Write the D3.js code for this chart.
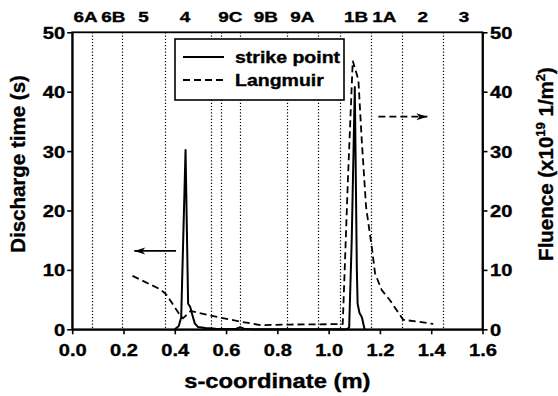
<!DOCTYPE html>
<html>
<head>
<meta charset="utf-8">
<script src="https://cdn.jsdelivr.net/npm/d3@7"></script>
<style>
  body { margin: 0; background: #fff; }
  text { font-family: "Liberation Sans", Arial, sans-serif; font-weight: bold; fill: #000; stroke: #000; stroke-width: 0.35px; }
</style>
</head>
<body>
<div id="chart"></div>
<script>
// strike point discharge time (left axis, s)
const strikeX = [0.40, 0.415, 0.425, 0.442, 0.452, 0.46, 0.468, 0.478, 0.49, 0.52, 0.56, 0.60, 0.64, 0.655, 0.67, 0.70, 1.07, 1.08, 1.09, 1.102, 1.11, 1.113, 1.12, 1.13, 1.14];
const strikeY = [0, 0.5, 2, 30.2, 4.3, 3.8, 2.5, 1.0, 0.4, 0.2, 0.1, 0.05, 0.1, 0.35, 0.1, 0, 0, 0.3, 15, 40.8, 10, 4.3, 2.8, 2.0, 0];

// Langmuir fluence (right axis, x10^19 1/m^2)
const langX = [0.235, 0.345, 0.368, 0.42, 0.432, 0.462, 0.54, 0.655, 0.735, 0.85, 1.0, 1.055, 1.075, 1.094, 1.116, 1.129, 1.146, 1.168, 1.181, 1.207, 1.239, 1.291, 1.344, 1.408];
const langY = [9.0, 6.7, 5.8, 2.4, 1.85, 3.1, 2.3, 1.3, 0.7, 0.8, 0.85, 0.9, 25, 45.2, 42.0, 31.9, 20.6, 13.9, 9.4, 6.6, 4.9, 1.6, 1.3, 0.9];

// tile boundaries and tile names
const boundaries = [0.077, 0.196, 0.363, 0.543, 0.582, 0.655, 0.836, 0.960, 1.045, 1.167, 1.286, 1.446];
const tileNames = ["6A", "6B", "5", "4", "9C", "9B", "9A", "1B", "1A", "2", "3"];
const tileX = [0.052, 0.160, 0.278, 0.440, 0.617, 0.755, 0.897, 1.107, 1.217, 1.367, 1.528];

const xTicks = [0.0, 0.2, 0.4, 0.6, 0.8, 1.0, 1.2, 1.4, 1.6];
const yTicks = [0, 10, 20, 30, 40, 50];

const width = 558, height = 396;
const margin = {left: 72.2, right: 558 - 482.5, top: 32.3, bottom: 396 - 329.3};
const SX = 1.22; // horizontal stretch of the lettering

const x = d3.scaleLinear().domain([0, 1.6]).range([margin.left, width - margin.right]);
const yL = d3.scaleLinear().domain([0, 50]).range([height - margin.bottom, margin.top]);
const yR = d3.scaleLinear().domain([0, 50]).range([height - margin.bottom, margin.top]);

const svg = d3.select("#chart").append("svg")
    .attr("width", width)
    .attr("height", height);

// dotted tile boundaries
svg.append("g")
  .selectAll("line")
  .data(boundaries)
  .join("line")
    .attr("x1", d => Math.round(x(d)) + 0.5).attr("x2", d => Math.round(x(d)) + 0.5)
    .attr("y1", margin.top).attr("y2", height - margin.bottom)
    .attr("stroke", "#000")
    .attr("stroke-width", 1.2)
    .attr("stroke-dasharray", "1.2,2");

// tile labels
svg.append("g")
  .selectAll("text")
  .data(tileNames)
  .join("text")
    .attr("transform", (d, i) => `translate(${x(tileX[i])},21.5) scale(${SX},1)`)
    .attr("text-anchor", "middle")
    .attr("font-size", 15.5)
    .text(d => d);

// curves
const lineL = d3.line().x(d => x(d[0])).y(d => yL(d[1]));
const lineR = d3.line().x(d => x(d[0])).y(d => yR(d[1]));

svg.append("path")
    .datum(langX.map((v, i) => [v, langY[i]]))
    .attr("fill", "none")
    .attr("stroke", "#000")
    .attr("stroke-width", 1.8)
    .attr("stroke-dasharray", "7,4")
    .attr("d", lineR);

svg.append("path")
    .datum(strikeX.map((v, i) => [v, strikeY[i]]))
    .attr("fill", "none")
    .attr("stroke", "#000")
    .attr("stroke-width", 2)
    .attr("stroke-linejoin", "round")
    .attr("d", lineL);

// arrows pointing to the axes
function arrow(x0, x1, yv, dash) {
  const g = svg.append("g");
  g.append("line")
      .attr("x1", x(x0)).attr("x2", x(x1))
      .attr("y1", yL(yv)).attr("y2", yL(yv))
      .attr("stroke", "#000")
      .attr("stroke-width", 1.8)
      .attr("stroke-dasharray", dash);
  const dir = x1 > x0 ? 1 : -1;
  const tx = x(x1), ty = yL(yv);
  g.append("path")
      .attr("d", `M${tx},${ty} L${tx - dir * 11},${ty - 3.5} L${tx - dir * 8},${ty} L${tx - dir * 11},${ty + 3.5} Z`)
      .attr("fill", "#000");
}
arrow(0.405, 0.242, 13.2, null);
arrow(1.194, 1.385, 35.8, "7,4");

// frame
svg.append("rect")
    .attr("x", margin.left).attr("y", margin.top)
    .attr("width", x(1.6) - x(0))
    .attr("height", yL(0) - yL(50))
    .attr("fill", "none")
    .attr("stroke", "#000")
    .attr("stroke-width", 1.8);

// axes
const gx = svg.append("g")
    .attr("transform", `translate(0,${height - margin.bottom})`)
    .call(d3.axisBottom(x).tickValues(xTicks).tickSize(5).tickSizeOuter(0).tickFormat(d3.format(".1f")));
const gl = svg.append("g")
    .attr("transform", `translate(${margin.left},0)`)
    .call(d3.axisLeft(yL).tickValues(yTicks).tickSize(5).tickSizeOuter(0));
const gr = svg.append("g")
    .attr("transform", `translate(${width - margin.right},0)`)
    .call(d3.axisRight(yR).tickValues(yTicks).tickSize(5).tickSizeOuter(0));

[gx, gl, gr].forEach(g => {
  g.select(".domain").attr("stroke-width", 1.8);
  g.selectAll(".tick line").attr("stroke-width", 1.6);
  g.selectAll("text")
      .attr("font-family", null)
      .attr("font-size", 16.5);
});
gx.selectAll("text").attr("y", 0).attr("dy", null)
    .attr("transform", `translate(0,27) scale(${SX},1)`);
gl.selectAll("text").attr("x", 0).attr("dy", "0.36em")
    .attr("transform", `translate(-7,0) scale(${SX},1)`);
gr.selectAll("text").attr("x", 0).attr("dy", "0.36em")
    .attr("transform", `translate(7.5,0) scale(${SX},1)`);

// axis titles
svg.append("text")
    .attr("transform", `translate(${(x(0) + x(1.6)) / 2},388) scale(${SX},1)`)
    .attr("text-anchor", "middle")
    .attr("font-size", 19.5)
    .text("s-coordinate (m)");

svg.append("text")
    .attr("transform", "translate(24.5,164) rotate(-90)")
    .attr("text-anchor", "middle")
    .attr("font-size", 20.5)
    .text("Discharge time (s)");

const rt = svg.append("text")
    .attr("transform", "translate(552.5,164) rotate(-90)")
    .attr("text-anchor", "middle")
    .attr("font-size", 20.5);
rt.append("tspan").text("Fluence (x10");
rt.append("tspan").attr("font-size", 13).attr("dy", -8).text("19");
rt.append("tspan").attr("dy", 8).text(" 1/m");
rt.append("tspan").attr("font-size", 13).attr("dy", -8).text("2");
rt.append("tspan").attr("dy", 8).text(")");

// legend
const lg = svg.append("g");
lg.append("rect")
    .attr("x", 175).attr("y", 39)
    .attr("width", 169).attr("height", 61)
    .attr("fill", "#fff")
    .attr("stroke", "#000")
    .attr("stroke-width", 1.6);
const legendItems = [
  {label: "strike point", dash: null, y: 57},
  {label: "Langmuir", dash: "7,4", y: 80}
];
legendItems.forEach(it => {
  lg.append("line")
      .attr("x1", 183).attr("x2", 224)
      .attr("y1", it.y).attr("y2", it.y)
      .attr("stroke", "#000")
      .attr("stroke-width", 1.8)
      .attr("stroke-dasharray", it.dash);
  lg.append("text")
      .attr("transform", `translate(235,${it.y + 6}) scale(${SX},1)`)
      .attr("font-size", 16)
      .text(it.label);
});
</script>
</body>
</html>
